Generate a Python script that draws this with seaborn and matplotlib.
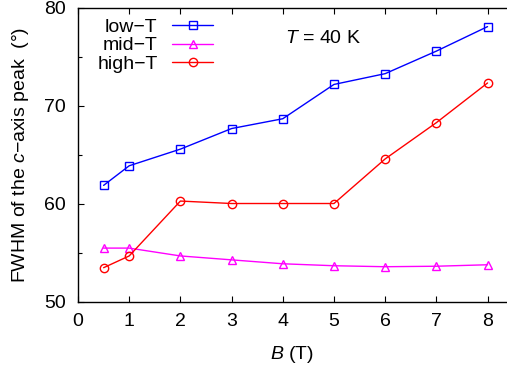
import matplotlib
matplotlib.use("Agg")
import matplotlib.pyplot as plt
import seaborn as sns
import pandas as pd
from matplotlib.ticker import MultipleLocator

# Magnetic field values (T)
field = [0.5, 1, 2, 3, 4, 5, 6, 7, 8]

# FWHM of the c-axis peak (degrees) for each temperature region
low_t = [61.9, 63.9, 65.6, 67.7, 68.7, 72.2, 73.3, 75.6, 78.1]
mid_t = [55.5, 55.5, 54.7, 54.3, 53.9, 53.7, 53.6, 53.65, 53.8]
high_t = [53.5, 54.7, 60.3, 60.05, 60.05, 60.05, 64.6, 68.3, 72.35]

series_names = ["low\u2212T", "mid\u2212T", "high\u2212T"]
series_values = [low_t, mid_t, high_t]
series_colors = ["#0000ff", "#ff00ff", "#ff0000"]
series_markers = ["s", "^", "o"]

sns.set_style("ticks")
plt.rcParams["font.family"] = ["Liberation Sans", "DejaVu Sans"]
plt.rcParams["mathtext.fontset"] = "custom"
plt.rcParams["mathtext.rm"] = "Liberation Sans"
plt.rcParams["mathtext.it"] = "Liberation Sans:italic"
for key in ["text.color", "axes.labelcolor", "xtick.color", "ytick.color",
            "axes.edgecolor"]:
    plt.rcParams[key] = "black"

FS = 14

fig = plt.figure(figsize=(5.07, 3.70), dpi=100)
ax = fig.add_axes([78 / 507, 68 / 370, 1 - 78 / 507, (302 - 8) / 370])

frames = []
for name, vals in zip(series_names, series_values):
    frames.append(pd.DataFrame({"B": field, "FWHM": vals, "series": name}))
df = pd.concat(frames, ignore_index=True)

handles = []
for name, color, mk in zip(series_names, series_colors, series_markers):
    sub = df[df["series"] == name]
    sns.lineplot(data=sub, x="B", y="FWHM", ax=ax, color=color, marker=mk,
                 markersize=6, markerfacecolor="none", markeredgecolor=color,
                 markeredgewidth=1.0, linewidth=1.0, legend=False)
    handles.append(ax.lines[-1])

ax.set_xlim(0, 8.38)
ax.set_ylim(50, 80)
ax.xaxis.set_major_locator(MultipleLocator(1))
ax.yaxis.set_major_locator(MultipleLocator(10))
ax.yaxis.set_minor_locator(MultipleLocator(5))

ax.tick_params(axis="both", which="both", direction="in", labelsize=FS,
               top=True, right=False, width=0.8)
ax.tick_params(axis="x", which="major", length=4, pad=8)
ax.tick_params(axis="y", which="major", length=4, pad=9)
ax.tick_params(axis="y", which="minor", length=3)
for side in ["left", "bottom", "top"]:
    ax.spines[side].set_linewidth(1.0)
ax.spines["right"].set_visible(False)

ax.set_xlabel("$B$ (T)", fontsize=FS, labelpad=10)
ax.set_ylabel("FWHM of the $c$\u2212axis peak  (\u00b0)", fontsize=FS, labelpad=9)

ax.text(4.05, 76.9, "$T$ = 40 K", fontsize=FS, ha="left", va="center")

ax.legend(handles=handles, labels=series_names, loc="upper right",
          markerfirst=False, frameon=False, fontsize=FS, handlelength=2.1,
          handletextpad=0.75, labelspacing=0.05, borderpad=0.0,
          borderaxespad=0.0, bbox_to_anchor=(0.3147, 0.965))

fig.savefig("out.png", dpi=100)
